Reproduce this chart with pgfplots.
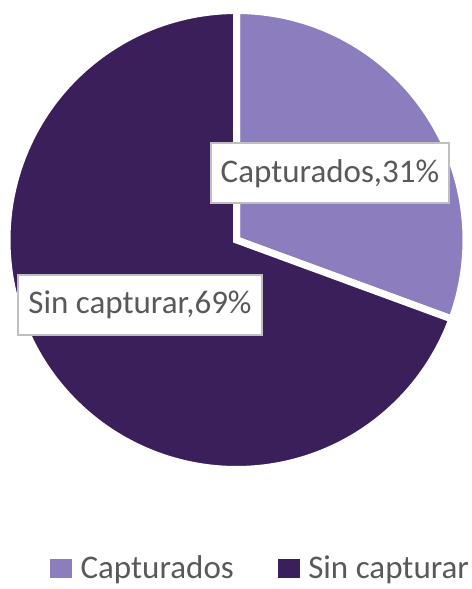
\documentclass[border=0pt]{standalone}
\usepackage{pgfplots}
\pgfplotsset{compat=1.18}
\usepackage{pgfplotstable}
\usepackage{fontspec}
\setmainfont{Carlito}
\definecolor{lightp}{HTML}{8B7DBE}
\definecolor{darkp}{HTML}{3B1F5B}
\definecolor{txt}{HTML}{595959}
\definecolor{bord}{HTML}{BFBFBF}
\pgfplotstableread{
label value
Capturados 30.6
Sin 69.4
}\piedata
\begin{document}
\begin{tikzpicture}
\pgfplotstablegetelem{0}{value}\of\piedata
\pgfmathsetmacro{\aB}{90-3.6*\pgfplotsretval}
\pgfplotstablegetelem{1}{value}\of\piedata
\pgfmathsetmacro{\aC}{\aB-3.6*\pgfplotsretval}
\begin{axis}[x=1pt,y=1pt,xmin=-236.5,xmax=229.5,ymin=-349,ymax=240,
  hide axis, clip=false,
  legend columns=2,
  legend style={at={(axis cs:-186.5,-328)}, anchor=west, draw=none, fill=none,
    font=\fontsize{33}{39}\selectfont, text=txt, inner sep=0pt,
    /tikz/every odd column/.append style={column sep=7pt},
    /tikz/every even column/.append style={column sep=42pt}},
  legend cell align=left]
\path (axis cs:-236.5,-349) rectangle (axis cs:229.5,240);
\addplot[forget plot, fill=lightp, draw=white, line width=7pt, domain=\aB:90, samples=120]
  ({229.5*cos(x)},{229.5*sin(x)}) -- (axis cs:0,0) -- cycle;
\addplot[forget plot, fill=darkp, draw=white, line width=7pt, domain=\aC:\aB, samples=200]
  ({229.5*cos(x)},{229.5*sin(x)}) -- (axis cs:0,0) -- cycle;
\node[draw=bord, line width=2pt, fill=white, text=txt, font=\fontsize{33}{39}\selectfont,
  inner xsep=10pt, minimum height=60pt] at (axis cs:93.5,66.5) {Capturados,31\%};
\node[draw=bord, line width=2pt, fill=white, text=txt, font=\fontsize{33}{39}\selectfont,
  inner xsep=10pt, minimum height=60pt] at (axis cs:-96.5,-65) {Sin capturar,69\%};
\addlegendimage{legend image code/.code={\fill[lightp] (0pt,-9pt) rectangle (21pt,9pt);}}
\addlegendentry{Capturados}
\addlegendimage{legend image code/.code={\fill[darkp] (0pt,-9pt) rectangle (21pt,9pt);}}
\addlegendentry{Sin capturar}
\end{axis}
\end{tikzpicture}
\end{document}
